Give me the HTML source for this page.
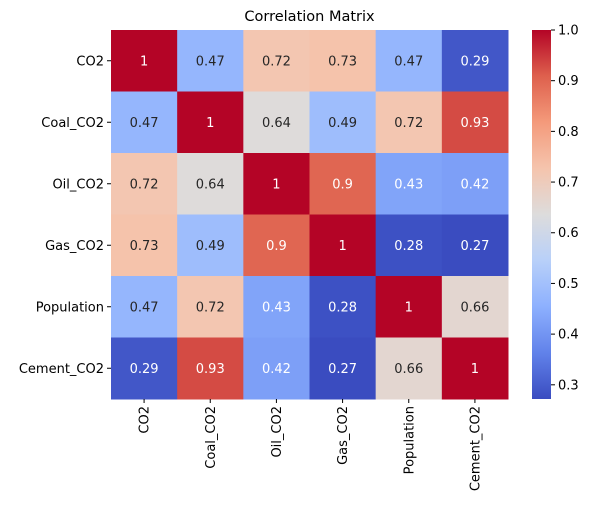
<!DOCTYPE html>
<html><head><meta charset="utf-8"><style>
html,body{margin:0;padding:0;background:#fff;}
svg{display:block;font-family:"DejaVu Sans","Liberation Sans",sans-serif;}
</style></head><body>
<svg id="chart" width="592" height="510"></svg>
<script>
const labels = ["CO2","Coal_CO2","Oil_CO2","Gas_CO2","Population","Cement_CO2"];
const row0 = [1,0.47,0.72,0.73,0.47,0.29];
const row1 = [0.47,1,0.64,0.49,0.72,0.93];
const row2 = [0.72,0.64,1,0.9,0.43,0.42];
const row3 = [0.73,0.49,0.9,1,0.28,0.27];
const row4 = [0.47,0.72,0.43,0.28,1,0.66];
const row5 = [0.29,0.93,0.42,0.27,0.66,1];
const cbTicks = [0.3,0.4,0.5,0.6,0.7,0.8,0.9,1.0];
const vmin = 0.272, vmax = 1.0;
const rows = [row0,row1,row2,row3,row4,row5];
const NS = "http://www.w3.org/2000/svg";
const svg = document.getElementById("chart");
const L=111,R=508,T=30,B=399;
const cw=(R-L)/labels.length, ch=(B-T)/labels.length;
const cmap=[[0,58,76,192],[0.125,97,130,234],[0.25,141,176,254],[0.375,184,208,249],[0.5,221,220,220],[0.625,245,196,173],[0.75,244,154,123],[0.875,222,96,77],[1,180,4,38]];
function color(v){let t=(v-vmin)/(vmax-vmin);t=Math.max(0,Math.min(1,t));
 for(let i=1;i<cmap.length;i++){if(t<=cmap[i][0]){const a=cmap[i-1],b=cmap[i],f=(t-a[0])/(b[0]-a[0]);
 return [1,2,3].map(k=>Math.round(a[k]+(b[k]-a[k])*f));}}return [180,4,38];}
function relLum(c){const l=c.map(x=>{x/=255;return x<=0.03928?x/12.92:Math.pow((x+0.055)/1.055,2.4);});return 0.2126*l[0]+0.7152*l[1]+0.0722*l[2];}
function el(tag,attrs,text){const e=document.createElementNS(NS,tag);for(const k in attrs)e.setAttribute(k,attrs[k]);if(text!==undefined)e.textContent=text;svg.appendChild(e);return e;}
function xs(i){return L+i*cw;} function ys(i){return T+i*ch;}
function cy(v){return B-(v-vmin)/(vmax-vmin)*(B-T);}
let t=el("text",{x:(L+R)/2,y:21,"text-anchor":"middle","font-size":"14.5",fill:"#000"},"Correlation Matrix");


rows.forEach((r,i)=>r.forEach((v,j)=>{
 const c=color(v);
 const rc=el("rect",{x:xs(j),y:ys(i),width:cw+0.5,height:ch+0.5,fill:`rgb(${c})`});
 
 
 const tx=el("text",{x:xs(j)+cw/2,y:ys(i)+ch/2+4.5,"text-anchor":"middle","font-size":"13",fill:relLum(c)>0.408?"#262626":"#fff"},String(v));
 
 
}));
labels.forEach((lab,i)=>{
 const y=ys(i)+ch/2;
 el("line",{x1:L-4,x2:L,y1:y,y2:y,stroke:"#000","stroke-width":1});
 const a=el("text",{x:L-7,y:y+4.5,"text-anchor":"end","font-size":"13",fill:"#000"},lab);
 
 
 const x=xs(i)+cw/2;
 el("line",{x1:x,x2:x,y1:B,y2:B+4,stroke:"#000","stroke-width":1});
 const b=el("text",{x:0,y:0,"text-anchor":"end","font-size":"13",fill:"#000",transform:`translate(${x+4.5},${B+7}) rotate(-90)`},lab);
 
 
});
const defs=el("defs",{});
const g=document.createElementNS(NS,"linearGradient");g.setAttribute("id","cg");g.setAttribute("x1","0");g.setAttribute("y1","1");g.setAttribute("x2","0");g.setAttribute("y2","0");
cmap.forEach(s=>{const st=document.createElementNS(NS,"stop");st.setAttribute("offset",s[0]);st.setAttribute("stop-color",`rgb(${s[1]},${s[2]},${s[3]})`);g.appendChild(st);});
defs.appendChild(g);
const cb=el("rect",{x:532,y:T,width:19,height:B-T,fill:"url(#cg)"});


cbTicks.forEach(v=>{const y=cy(v);
 el("line",{x1:551,x2:555,y1:y,y2:y,stroke:"#000","stroke-width":1});
 const tt=el("text",{x:558,y:y+4.5,"font-size":"13",fill:"#000"},v.toFixed(1));
 
 
});
</script>
</body></html>
